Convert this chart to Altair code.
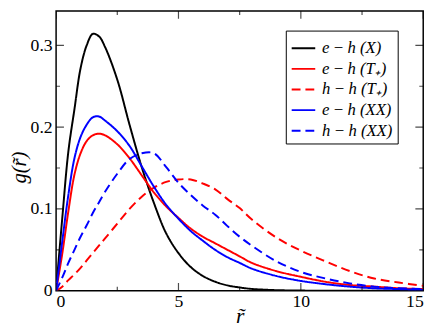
import altair as alt
import pandas as pd

# ---- data ----
r_values = [0, 0.25, 0.5, 0.75, 1, 1.25, 1.5, 1.75, 2, 2.5, 3, 3.5, 4, 4.5, 5,
            5.5, 6, 6.5, 7, 7.5, 8, 9, 10, 11, 12, 13, 14, 15]
g_eh_X = [0, .088, .170, .222, .272, .300, .314, .311, .298, .258, .203, .151, .107, .070, .046,
          .029, .018, .011, .0065, .004, .0022, .0007, .0002, 0, 0, 0, 0, 0]
g_eh_T = [0, .045, .097, .142, .168, .183, .190, .192, .190, .179, .162, .141, .120, .103, .089,
          .076, .066, .058, .050, .042, .034, .024, .017, .011, .007, .005, .003, .002]
g_hh_T = [0, .005, .013, .020, .028, .037, .046, .055, .064, .082, .100, .115, .126, .133, .136,
          .136, .131, .124, .112, .101, .087, .065, .049, .036, .024, .015, .010, .006]
g_eh_XX = [0, .060, .117, .162, .188, .203, .212, .213, .208, .195, .177, .152, .127, .105, .088,
           .073, .061, .050, .041, .034, .027, .018, .012, .008, .005, .003, .002, .001]
g_hh_XX = [0, .016, .034, .050, .066, .080, .095, .108, .121, .143, .161, .168, .168, .151, .132,
           .117, .104, .093, .079, .066, .055, .036, .023, .015, .009, .005, .003, .002]

series_names = ["e\u2009\u2212\u2009h (X)", "e\u2009\u2212\u2009h (T\u208a)", "h\u2009\u2212\u2009h (T\u208a)",
                "e\u2009\u2212\u2009h (XX)", "h\u2009\u2212\u2009h (XX)"]
series_values = [g_eh_X, g_eh_T, g_hh_T, g_eh_XX, g_hh_XX]
series_colors = ["#000000", "#ff0000", "#ff0000", "#0000ff", "#0000ff"]
series_dashes = [[1, 0], [1, 0], [9, 5], [1, 0], [9, 5]]

x_major = [0, 5, 10, 15]
x_minor = [2.5, 7.5, 12.5]
y_major = [0, 0.1, 0.2, 0.3]
y_minor = [0.05, 0.15, 0.25]
x_max = 15
y_max = 0.342

rows = []
for name, vals in zip(series_names, series_values):
    for xv, yv in zip(r_values, vals):
        rows.append({"series": name, "r": xv, "g": yv})
df = pd.DataFrame(rows)

FONT = "Liberation Serif"

xscale = alt.Scale(domain=[0, x_max], nice=False, zero=False)
yscale = alt.Scale(domain=[0, y_max], nice=False, zero=False)

legend = alt.Legend(title=None, orient="none", legendX=234, legendY=20,
                    symbolType="stroke", symbolSize=576, symbolStrokeWidth=2,
                    labelFontSize=17, labelFont=FONT, labelFontStyle="italic",
                    labelOffset=6, rowPadding=0, padding=5,
                    strokeColor="black", fillColor="white")

lines = alt.Chart(df).mark_line(strokeWidth=2, interpolate="catmull-rom", clip=True).encode(
    x=alt.X("r:Q", scale=xscale,
            axis=alt.Axis(values=x_major, format="d", title="r\u0303", ticks=False, domain=False,
                          grid=False, labelFontSize=18, labelPadding=2, titleFontSize=22,
                          labelFont=FONT, titleFont=FONT,
                          titleFontStyle="italic", titleFontWeight="normal", titleY=32,
                          titleBaseline="alphabetic")),
    y=alt.Y("g:Q", scale=yscale,
            axis=alt.Axis(values=y_major, labelExpr="datum.value == 0 ? '0' : format(datum.value, '.1f')",
                          title="g(r\u0303)", ticks=False, domain=False, grid=False,
                          labelFont=FONT, titleFont=FONT,
                          labelFontSize=18, labelPadding=4, titleFontSize=21,
                          titleFontStyle="italic", titleFontWeight="normal",
                          titleX=-37, titleY=159, titleBaseline="middle", titleAlign="center")),
    color=alt.Color("series:N", scale=alt.Scale(domain=series_names, range=series_colors),
                    legend=legend),
    strokeDash=alt.StrokeDash("series:N", scale=alt.Scale(domain=series_names, range=series_dashes),
                              legend=legend),
    order=alt.Order("r:Q"),
)

xmaj = pd.DataFrame({"v": x_major})
xmin = pd.DataFrame({"v": x_minor})
ymaj = pd.DataFrame({"v": y_major})
ymin = pd.DataFrame({"v": y_minor})

def xticks(d, size, at):
    return alt.Chart(d).mark_tick(orient="vertical", size=size, thickness=1.2, color="black", clip=True).encode(
        x=alt.X("v:Q", scale=xscale), y=alt.YDatum(at))

def yticks(d, size, at):
    return alt.Chart(d).mark_tick(orient="horizontal", size=size, thickness=1.2, color="black", clip=True).encode(
        y=alt.Y("v:Q", scale=yscale), x=alt.XDatum(at))

ticks = [
    xticks(xmaj, 16, 0), xticks(xmin, 8, 0), xticks(xmaj, 16, y_max), xticks(xmin, 8, y_max),
    yticks(ymaj, 16, 0), yticks(ymin, 8, 0), yticks(ymaj, 16, x_max), yticks(ymin, 8, x_max),
]

chart = alt.layer(lines, *ticks).properties(
    width=374, height=285,
    autosize=alt.AutoSizeParams(type="none"),
    padding={"left": 49, "top": 0, "right": 12, "bottom": 38},
).configure(font=FONT).configure_view(stroke="black", strokeWidth=1.5).configure_axis(
    labelColor="black", titleColor="black"
).configure_legend(labelColor="black")

chart.save("out.html", embed_options={"renderer": "svg", "actions": False})
